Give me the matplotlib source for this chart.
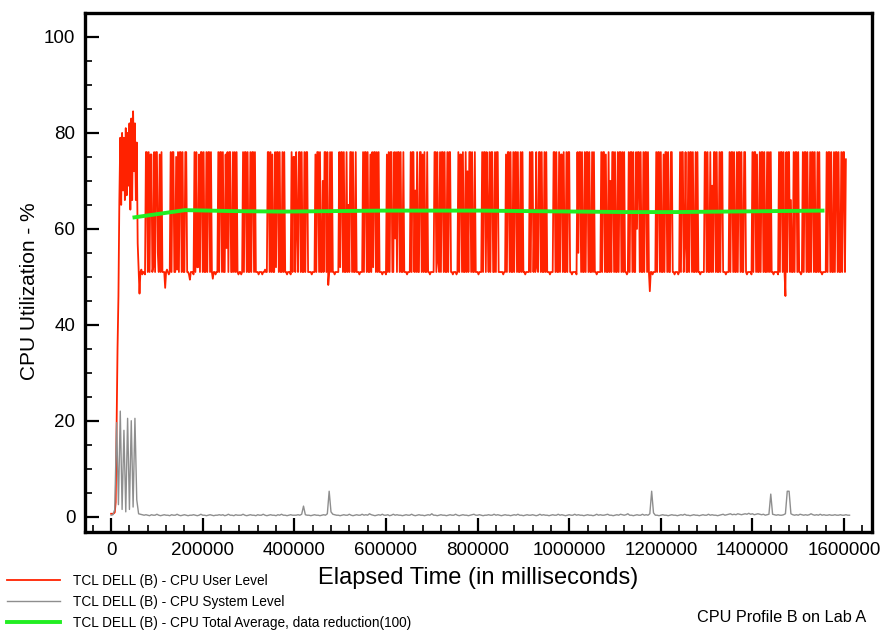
import matplotlib
matplotlib.use('Agg')
import matplotlib.pyplot as plt
from matplotlib.ticker import MultipleLocator, FuncFormatter
import numpy as np

plt.rcParams['font.family'] = ['Liberation Sans', 'DejaVu Sans']

# ── Data ─────────────────────────────────────────────────────────────────────
USER_MS = 2000   # sample spacing of the user level series
SYS_MS = 4000    # sample spacing of the system level series

# CPU user level
red_user = [
    # start-up
    0.6, 0.6, 0.6, 0.7, 0.9, 3, 20, 35, 46, 66,
    79, 65, 80, 68, 79, 66, 81, 67, 80, 69,
    82, 64, 83, 66, 84.5, 72, 82, 66, 78, 57,
    51.5, 46.5, 51, 51.5, 50.5, 51, 51, 50.5,
    # steady blocks / quiet gaps
    76, 76, 51, 76, 51, 75.5, 75.5, 51, 52, 76, 51, 76, 76, 55, 51, 75.5, 51, 76, 51,
    51, 51, 47.7, 51, 51.5, 51, 50.5, 51,
    76, 51, 76, 76, 51, 51, 75, 51.5, 76, 51, 76, 76, 51, 76, 51, 51, 76, 76,
    51, 51, 50.5, 49.4, 51, 51, 51, 50.5,
    76, 51, 76, 52, 52, 75.5, 51, 76, 76, 51, 76, 51, 51, 76, 51, 76, 76, 51, 76,
    51, 49.6, 51, 51, 50.5, 51, 51,
    76, 51, 76, 76, 51, 76, 51, 51, 75.5, 56, 76, 51, 76, 76, 51, 51, 76, 51, 76, 51, 76,
    51, 50.5, 51, 51, 50.5, 51,
    76, 51, 76, 76, 51, 76, 51, 51, 76, 51, 76, 76, 51, 76, 51,
    51, 51, 50.5, 51, 51, 51, 50.5, 51, 51, 51.5, 51, 51,
    76, 76, 51, 76, 51, 75.5, 51, 51, 76, 52, 76, 76, 51, 76, 51, 51, 76, 51, 76, 51,
    51, 50.5, 51, 51, 51, 50.5,
    76, 51, 75, 75, 51, 76, 60, 51, 76, 76, 51, 76, 51, 51, 76, 51, 76, 76, 51, 51,
    51, 51, 50.5, 51, 51, 51,
    75.5, 51, 76, 76, 51, 76, 51, 51, 70, 51, 76, 76, 51, 76, 48.3, 51, 76, 51, 76, 51,
    51, 50.5, 51, 51, 51, 51,
    76, 52, 76, 76, 51, 76, 51, 51, 76, 51, 65, 51, 76, 76, 51, 76, 51, 51, 76, 51,
    51, 51, 50.5, 51, 51, 51,
    76, 51, 76, 76, 51, 76, 51, 51, 75.5, 51, 76, 52, 76, 76, 51, 76, 51, 76, 51, 51,
    51, 50.5, 51, 51, 51, 50.5,
    75.5, 51, 76, 51, 76, 76, 51, 51, 76, 58, 76, 51, 76, 76, 51, 76, 51, 51, 76, 51,
    51, 51, 50.5, 51, 51, 51,
    76, 51, 76, 76, 51, 68, 51, 76, 51, 51, 76, 76, 51, 75.5, 51, 76, 51, 51, 76, 51,
    51, 50.5, 51, 51, 51, 51,
    76, 76, 51, 76, 53, 51, 76, 51, 76, 76, 51, 76, 51, 51, 76, 51, 76, 76, 51, 51,
    50.5, 51, 51, 51, 50.5, 51,
    76, 51, 75.5, 75.5, 51, 76, 51, 51, 76, 51, 72, 51, 76, 76, 51, 76, 51, 51, 76, 51,
    51, 51, 50.5, 51, 51, 51,
    76, 51, 76, 76, 51, 76, 62, 51, 76, 51, 76, 76, 51, 51, 76, 51, 76, 76, 51, 51,
    51, 51, 51, 50.5, 51, 51,
    75.5, 51, 76, 76, 51, 76, 51, 51, 76, 51, 76, 76, 51, 76, 51, 51, 76, 51, 76, 51,
    51, 50.5, 51, 51, 51, 51,
    76, 51, 76, 76, 51, 64, 51, 76, 52, 51, 76, 76, 51, 76, 51, 51, 76, 51, 76, 51,
    51, 51, 50.5, 51, 51, 51,
    76, 76, 51, 76, 51, 51, 76, 51, 75.5, 75.5, 51, 76, 51, 51, 76, 51, 76, 76, 51, 51,
    50.5, 51, 51, 51, 51, 50.5,
    76, 55, 76, 76, 51, 76, 51, 51, 76, 51, 76, 76, 51, 76, 51, 51, 76, 51, 76, 51,
    51, 50.5, 51, 51, 51, 51,
    76, 51, 76, 76, 51, 75.5, 51, 51, 76, 51, 70, 51, 76, 76, 51, 76, 51, 51, 76, 51,
    76, 76, 51, 76, 51, 76,
    51, 51, 50.5, 51,
    76, 51, 76, 76, 51, 76, 51, 51, 76, 60, 76, 76, 51, 76, 51, 51, 76, 51, 76, 76, 51, 76,
    51, 47, 51, 51, 50.5, 51, 51, 51,
    76, 51, 76, 76, 51, 76, 51, 51, 75.5, 51, 76, 76, 51, 76, 51, 51, 76, 76,
    51, 51, 50.5, 51, 51, 51, 50.5, 51,
    76, 51, 76, 76, 51, 57, 76, 51, 51, 76, 51, 76, 76, 51, 76, 51, 51, 76, 51, 76, 51,
    51, 50.5, 51, 51, 51, 51,
    76, 76, 51, 76, 51, 51, 76, 51, 69, 51, 76, 76, 51, 76, 51, 51, 76, 51, 76, 76, 51,
    51, 51, 50.5, 51, 51, 51,
    76, 51, 76, 76, 51, 76, 51, 51, 76, 51, 76, 76, 51, 76, 51, 51, 76, 76,
    51, 50.5, 51, 51, 51, 51, 50.5,
    76, 51, 76, 76, 51, 75.5, 51, 51, 76, 51, 76, 76, 51, 76, 51, 51, 76, 51, 76, 51, 76,
    51, 51, 50.5, 51, 51, 51, 51, 50.5,
    76, 51, 76, 76, 51, 76, 51, 46, 76, 51, 76, 76, 51, 66, 51, 51, 76, 51, 76, 76, 51, 76,
    51, 51, 50.5, 51,
    76, 51, 76, 76, 51, 76, 51, 51, 76, 51, 76, 76, 51, 76, 51, 51, 76, 51, 76, 51,
    51, 50.5, 51, 51, 51, 51,
    76, 51, 76, 76, 51, 76, 51, 51, 76, 51, 76, 76, 51, 76, 51, 51, 76, 51, 76, 76, 51, 74.5,
]

# CPU system level
gray_sys = [
    0.3, 0.4, 1.5, 19.6, 2.5, 22, 1.5, 18, 1, 20.5, 1.5, 20, 2, 20.5, 3.5, 0.6, 0.5, 0.4, 0.3, 0.4,
    0.3, 0.2, 0.4, 0.3, 0.3, 0.5, 0.3, 0.2, 0.3, 0.4, 0.3, 0.3, 0.2, 0.4, 0.3, 0.3, 0.5, 0.3, 0.2, 0.3,
    0.4, 0.3, 0.2, 0.3, 0.3, 0.4, 0.3, 0.2, 0.3, 0.5, 0.3, 0.3, 0.2, 0.3, 0.4, 0.3, 0.2, 0.3, 0.3, 0.4,
    0.3, 0.4, 0.2, 0.3, 0.5, 0.3, 0.3, 0.2, 0.4, 0.3, 0.3, 0.3, 0.5, 0.3, 0.2, 0.3, 0.4, 0.3, 0.3, 0.2,
    0.4, 0.3, 0.3, 0.5, 0.3, 0.2, 0.3, 0.4, 0.3, 0.3, 0.2, 0.4, 0.3, 0.5, 0.3, 0.3, 0.2, 0.3, 0.4, 0.3,
    0.3, 0.3, 0.4, 0.3, 0.5, 2.2, 0.4, 0.3, 0.3, 0.2, 0.3, 0.4, 0.3, 0.3, 0.2, 0.3, 0.4, 0.3, 0.6, 5.3,
    1.0, 0.5, 0.4, 0.3, 0.3, 0.2, 0.3, 0.4, 0.3, 0.3, 0.5, 0.3, 0.2, 0.3, 0.4, 0.3, 0.3, 0.5, 0.3, 0.4,
    0.3, 0.6, 0.4, 0.3, 0.2, 0.3, 0.4, 0.3, 0.5, 0.3, 0.3, 0.4, 0.2, 0.3, 0.5, 0.3, 0.4, 0.3, 0.3, 0.2,
    0.3, 0.4, 0.3, 0.3, 0.5, 0.3, 0.2, 0.3, 0.4, 0.3, 0.3, 0.2, 0.3, 0.4, 0.3, 0.6, 0.3, 0.3, 0.2, 0.3,
    0.4, 0.3, 0.3, 0.2, 0.3, 0.4, 0.3, 0.3, 0.5, 0.3, 0.2, 0.3, 0.4, 0.3, 0.3, 0.2, 0.3, 0.4, 0.5, 0.3,
    0.3, 0.4, 0.3, 0.2, 0.3, 0.3, 0.4, 0.3, 0.3, 0.5, 0.3, 0.4, 0.3, 0.2, 0.3, 0.4, 0.3, 0.3, 0.2, 0.3,
    0.4, 0.3, 0.5, 0.3, 0.3, 0.2, 0.3, 0.4, 0.3, 0.3, 0.4, 0.3, 0.2, 0.3, 0.5, 0.3, 0.4, 0.3, 0.3, 0.2,
    0.3, 0.4, 0.3, 0.3, 0.5, 0.3, 0.4, 0.3, 0.2, 0.3, 0.4, 0.3, 0.3, 0.5, 0.3, 0.4, 0.3, 0.3, 0.2, 0.3,
    0.4, 0.3, 0.3, 0.2, 0.3, 0.5, 0.3, 0.4, 0.3, 0.3, 0.4, 0.5, 0.3, 0.3, 0.2, 0.3, 0.4, 0.3, 0.5, 0.4,
    0.3, 0.4, 0.6, 0.3, 0.3, 0.2, 0.3, 0.4, 0.3, 0.3, 0.5, 0.3, 0.4, 0.3, 0.6, 5.3, 0.8, 0.3, 0.3, 0.2,
    0.3, 0.4, 0.3, 0.3, 0.2, 0.3, 0.4, 0.3, 0.3, 0.2, 0.3, 0.4, 0.3, 0.5, 0.3, 0.3, 0.2, 0.3, 0.4, 0.3,
    0.3, 0.2, 0.3, 0.4, 0.3, 0.3, 0.5, 0.3, 0.4, 0.3, 0.3, 0.2, 0.3, 0.4, 0.5, 0.3, 0.4, 0.5, 0.6, 0.4,
    0.5, 0.4, 0.6, 0.5, 0.4, 0.5, 0.6, 0.5, 0.7, 0.5, 0.6, 0.4, 0.5, 0.6, 0.5, 0.4, 0.5, 0.3, 0.4, 0.5,
    4.7, 0.5, 0.4, 0.3, 0.4, 0.3, 0.3, 0.4, 0.6, 5.3, 5.3, 0.6, 0.4, 0.3, 0.4, 0.3, 0.5, 0.4, 0.3, 0.4,
    0.3, 0.4, 0.6, 0.4, 0.3, 0.4, 0.3, 0.5, 0.3, 0.4, 0.3, 0.3, 0.4, 0.3, 0.3, 0.4, 0.3, 0.3, 0.4, 0.3,
    0.3, 0.4, 0.3, 0.3,
]

# CPU total average (data reduction 100)
avg_t = [51000, 161000, 268000, 375000, 482000, 590000, 697000, 804000,
         911000, 1018000, 1125000, 1232000, 1339000, 1446000, 1553000]
avg_v = [62.4, 63.9, 63.7, 63.6, 63.7, 63.8, 63.8, 63.8,
         63.7, 63.6, 63.5, 63.5, 63.6, 63.7, 63.8]

labels = ['TCL DELL (B) - CPU User Level',
          'TCL DELL (B) - CPU System Level',
          'TCL DELL (B) - CPU Total Average, data reduction(100)']

# ── Figure ───────────────────────────────────────────────────────────────────
fig = plt.figure(figsize=(8.82, 6.3), dpi=100)
ax = fig.add_axes([85 / 882, 1 - 532 / 630, (872 - 85) / 882, (532 - 13) / 630])

t_red = np.arange(len(red_user)) * USER_MS
t_gray = np.arange(len(gray_sys)) * SYS_MS

l1, = ax.plot(t_red, red_user, color='#FF2200', lw=1.3)
l2, = ax.plot(t_gray, gray_sys, color='#8E8E8E', lw=1.0)
l3, = ax.plot(avg_t, avg_v, color='#22EE22', lw=2.8)

ax.set_xlim(-57000, 1661000)
ax.set_ylim(-3.2, 105)
ax.xaxis.set_major_locator(MultipleLocator(200000))
ax.xaxis.set_minor_locator(MultipleLocator(40000))
ax.yaxis.set_major_locator(MultipleLocator(20))
ax.yaxis.set_minor_locator(MultipleLocator(5))
ax.xaxis.set_major_formatter(FuncFormatter(lambda v, p: f'{int(round(v))}'))
ax.yaxis.set_major_formatter(FuncFormatter(lambda v, p: f'{int(round(v))}'))

ax.tick_params(which='both', direction='in', top=False, right=False)
ax.tick_params(which='major', length=10, width=1.6, labelsize=13.5, pad=7)
ax.tick_params(which='minor', length=5, width=1.2)
for sp in ax.spines.values():
    sp.set_linewidth(2.4)

ax.set_xlabel('Elapsed Time (in milliseconds)', fontsize=17, labelpad=6)
ax.set_ylabel('CPU Utilization - %', fontsize=15)
ax.yaxis.set_label_coords(-0.059, 0.464)

fig.legend([l1, l2, l3], labels, loc='upper left', bbox_to_anchor=(0.008, 0.089),
           frameon=False, fontsize=9.8, handlelength=3.9, handletextpad=0.95,
           labelspacing=0.5, borderpad=0, borderaxespad=0)

fig.text(866 / 882, 1 - 618 / 630, 'CPU Profile B on Lab A',
         ha='right', va='center', fontsize=11.7)

fig.savefig('out.png', dpi=100)
